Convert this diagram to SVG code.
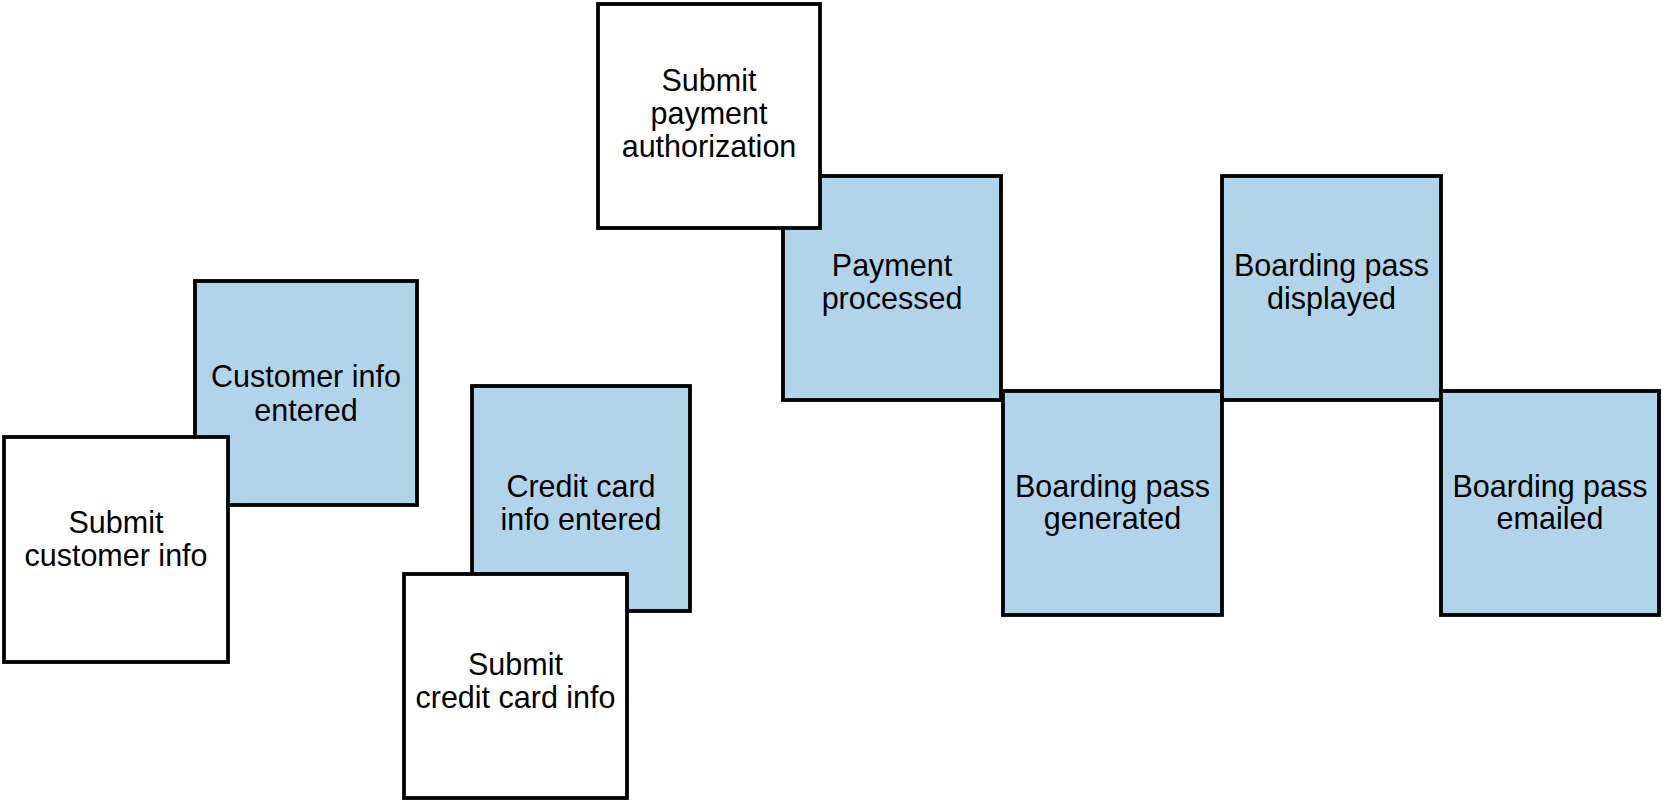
<svg xmlns="http://www.w3.org/2000/svg" width="1663" height="803" viewBox="0 0 1663 803">
<style>
.b{fill:#b2d4ea;stroke:#000;stroke-width:3.8}
.w{fill:#fff;stroke:#000;stroke-width:3.8}
text{font-family:"Liberation Sans",Arial,sans-serif;font-size:30.5px;fill:#000;text-anchor:middle}
</style>
<rect width="1663" height="803" fill="#fff"/>
<g id="connectors"></g>
<g id="payment-processed"><rect class="b" x="783" y="176" width="218" height="224"/><text x="892" y="276">Payment</text><text x="892" y="309">processed</text></g>
<g id="submit-payment"><rect class="w" x="598" y="4" width="222" height="224"/><text x="709" y="91">Submit</text><text x="709" y="124">payment</text><text x="709" y="157">authorization</text></g>
<g id="boarding-generated"><rect class="b" x="1003" y="391" width="219" height="224"/><text x="1112.5" y="497">Boarding pass</text><text x="1112.5" y="529">generated</text></g>
<g id="boarding-displayed"><rect class="b" x="1222" y="176" width="219" height="224"/><text x="1331.5" y="276">Boarding pass</text><text x="1331.5" y="309">displayed</text></g>
<g id="boarding-emailed"><rect class="b" x="1441" y="391" width="218" height="224"/><text x="1550" y="497">Boarding pass</text><text x="1550" y="529">emailed</text></g>
<g id="customer-entered"><rect class="b" x="195" y="281" width="222" height="224"/><text x="306" y="387">Customer info</text><text x="306" y="421">entered</text></g>
<g id="submit-customer"><rect class="w" x="4" y="437" width="224" height="225"/><text x="116" y="533">Submit</text><text x="116" y="566">customer info</text></g>
<g id="credit-entered"><rect class="b" x="472" y="386" width="218" height="225"/><text x="581" y="497">Credit card</text><text x="581" y="530">info entered</text></g>
<g id="submit-credit"><rect class="w" x="404" y="574" width="223" height="224"/><text x="515.5" y="675">Submit</text><text x="515.5" y="708">credit card info</text></g>
</svg>
